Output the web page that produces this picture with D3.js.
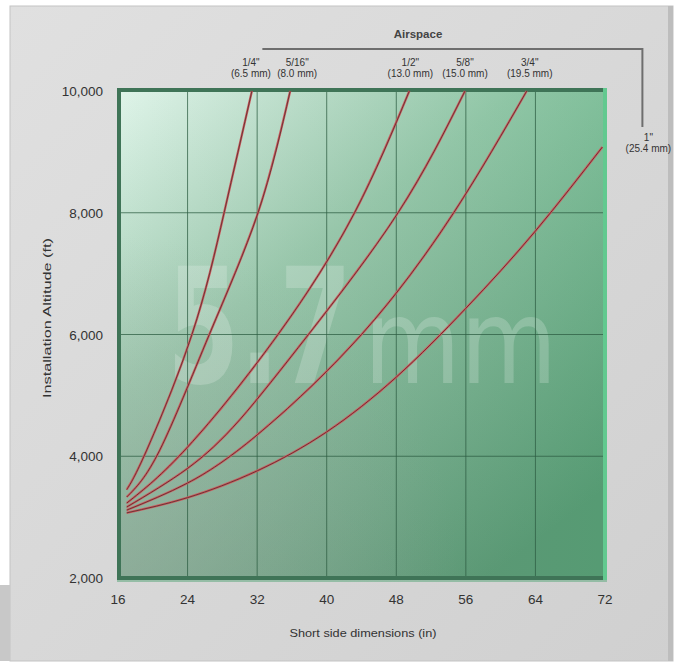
<!DOCTYPE html>
<html>
<head>
<meta charset="utf-8">
<script src="https://cdn.jsdelivr.net/npm/d3@7/dist/d3.min.js"></script>
<style>
  html, body { margin: 0; padding: 0; background: #ffffff; }
  svg { display: block; }
  text { font-family: "Liberation Sans", "Roboto", sans-serif; }
</style>
</head>
<body>
<script>
// ---------- data ----------
const xTicks = [16, 24, 32, 40, 48, 56, 64, 72];
const yTicks = [2000, 4000, 6000, 8000, 10000];
const seriesInch = ['1/4"', '5/16"', '1/2"', '5/8"', '3/4"', '1"'];
const seriesMM = ['(6.5 mm)', '(8.0 mm)', '(13.0 mm)', '(15.0 mm)', '(19.5 mm)', '(25.4 mm)'];
const s1 = [[17, 3450], [19.3, 4100], [24.5, 6000], [28.2, 8000], [31.4, 10000]];
const s2 = [[17, 3330], [20.8, 4100], [26.5, 6000], [32.1, 8000], [35.8, 10000]];
const s3 = [[17, 3230], [24, 4150], [34.4, 6000], [43.2, 8000], [49.5, 10000]];
const s4 = [[17, 3165], [24, 3800], [30, 4600], [37.9, 6000], [48.2, 8000], [55.9, 10000]];
const s5 = [[17, 3115], [24, 3560], [32, 4350], [44.0, 6000], [54.6, 8000], [63, 10000]];
const s6 = [[17, 3070], [24, 3320], [32, 3760], [40, 4400], [48, 5300], [56, 6430], [64, 7700], [71.7, 9080]];
const allSeries = [s1, s2, s3, s4, s5, s6];
const xTitle = "Short side dimensions (in)";
const yTitle = "Installation Altitude (ft)";
const bracketTitle = "Airspace";
const watermarkA = "5.7";
const watermarkB = "mm";

// ---------- drawing ----------
const W = 679, H = 666;
const svg = d3.select("body").append("svg").attr("width", W).attr("height", H);
const defs = svg.append("defs");

const pg = defs.append("linearGradient").attr("id", "panelG").attr("x1", 0).attr("y1", 0).attr("x2", 1).attr("y2", 1);
pg.append("stop").attr("offset", 0).attr("stop-color", "#e0e0e0");
pg.append("stop").attr("offset", 1).attr("stop-color", "#d0d0d0");

const gg = defs.append("linearGradient").attr("id", "plotG").attr("x1", 0).attr("y1", 0).attr("x2", 0.75).attr("y2", 1);
gg.append("stop").attr("offset", 0).attr("stop-color", "#e0f5ea");
gg.append("stop").attr("offset", 0.4).attr("stop-color", "#9cc9ae");
gg.append("stop").attr("offset", 1).attr("stop-color", "#5d9474");

const gg2 = defs.append("linearGradient").attr("id", "plotG2").attr("x1", 0).attr("y1", 0).attr("x2", 1).attr("y2", 0);
gg2.append("stop").attr("offset", 0).attr("stop-color", "#8a9a90").attr("stop-opacity", 0.0);
gg2.append("stop").attr("offset", 1).attr("stop-color", "#38b870").attr("stop-opacity", 0.2);

const rg = defs.append("radialGradient").attr("id", "plotG3").attr("cx", 0).attr("cy", 1).attr("r", 0.7);
rg.append("stop").attr("offset", 0).attr("stop-color", "#9aa39c").attr("stop-opacity", 0.45);
rg.append("stop").attr("offset", 1).attr("stop-color", "#9aa39c").attr("stop-opacity", 0);

// panel
svg.append("rect").attr("x", 10).attr("y", 6).attr("width", 663).attr("height", 655)
  .attr("fill", "url(#panelG)").attr("stroke", "#c4c4c4").attr("stroke-width", 1);
svg.append("rect").attr("x", 668).attr("y", 6).attr("width", 5).attr("height", 655).attr("fill", "#bdbdbd");
svg.append("rect").attr("x", 0).attr("y", 585).attr("width", 10).attr("height", 76).attr("fill", "#c8c8c8");

const x = d3.scaleLinear().domain([16, 72]).range([118, 605]);
const y = d3.scaleLinear().domain([2000, 10000]).range([578, 91]);

const bx0 = x(16) - 1, bx1 = x(72) + 2, by0 = y(10000) - 3, by1 = y(2000) + 2;

// plot background
["plotG", "plotG2", "plotG3"].forEach(id => {
  svg.append("rect").attr("x", bx0).attr("y", by0).attr("width", bx1 - bx0).attr("height", by1 - by0)
    .attr("fill", `url(#${id})`);
});

// watermark
svg.append("text").attr("x", 167).attr("y", 383).text(watermarkA)
  .attr("font-size", 160).attr("font-weight", "bold")
  .attr("textLength", 185).attr("lengthAdjust", "spacingAndGlyphs")
  .attr("fill", "#ffffff").attr("fill-opacity", 0.2)
  .style("font-family", "'DejaVu Sans', sans-serif");
svg.append("text").attr("x", 364).attr("y", 383).text(watermarkB)
  .attr("font-size", 118).attr("font-weight", "normal")
  .attr("textLength", 193).attr("lengthAdjust", "spacingAndGlyphs")
  .attr("fill", "#ffffff").attr("fill-opacity", 0.2)
  .style("font-family", "'DejaVu Sans', sans-serif");

// grid
const grid = svg.append("g");
grid.selectAll("line.v").data(xTicks.slice(1, -1)).join("line")
  .attr("x1", d => x(d)).attr("x2", d => x(d)).attr("y1", by0).attr("y2", by1)
  .attr("stroke", "#2e5e43").attr("stroke-opacity", 0.75).attr("stroke-width", 1);
grid.selectAll("line.h").data(yTicks.slice(1, -1)).join("line")
  .attr("x1", bx0).attr("x2", bx1).attr("y1", d => y(d)).attr("y2", d => y(d))
  .attr("stroke", "#2e5e43").attr("stroke-opacity", 0.75).attr("stroke-width", 1);

// border
svg.append("rect").attr("x", bx0 + 2).attr("y", by0 + 2).attr("width", bx1 - bx0 - 4).attr("height", by1 - by0 - 4)
  .attr("fill", "none").attr("stroke", "#3f7457").attr("stroke-width", 4);
svg.append("line").attr("x1", bx1 - 2).attr("x2", bx1 - 2).attr("y1", by0).attr("y2", by1)
  .attr("stroke", "#62c98f").attr("stroke-width", 4);
svg.append("line").attr("x1", bx0).attr("x2", bx1).attr("y1", by1 + 1).attr("y2", by1 + 1)
  .attr("stroke", "#7fb596").attr("stroke-width", 1.5);

// curves
const line = d3.line().x(d => x(d[0])).y(d => y(d[1])).curve(d3.curveNatural);
const cg = svg.append("g");
allSeries.forEach(s => {
  cg.append("path").attr("d", line(s)).attr("fill", "none").attr("stroke", "#cf5a5e").attr("stroke-width", 2.3);
  cg.append("path").attr("d", line(s)).attr("fill", "none").attr("stroke", "#5e3232").attr("stroke-width", 0.9);
});

// axes labels
const ax = svg.append("g").attr("fill", "#333").attr("font-size", 13.5);
ax.selectAll("text.y").data(yTicks).join("text")
  .attr("x", 103).attr("y", d => y(d) + 5).attr("text-anchor", "end").text(d => d3.format(",")(d));
ax.selectAll("text.x").data(xTicks).join("text")
  .attr("x", d => x(d)).attr("y", 604).attr("text-anchor", "middle").text(d => d);

svg.append("text").attr("x", 363).attr("y", 637).attr("text-anchor", "middle")
  .attr("font-size", 11.5).attr("fill", "#333").attr("textLength", 147).attr("lengthAdjust", "spacingAndGlyphs")
  .text(xTitle);
svg.append("text").attr("transform", "translate(51,318) rotate(-90)").attr("text-anchor", "middle")
  .attr("font-size", 11.5).attr("fill", "#333").attr("textLength", 160).attr("lengthAdjust", "spacingAndGlyphs")
  .text(yTitle);

// bracket
svg.append("text").attr("x", 418).attr("y", 38).attr("text-anchor", "middle")
  .attr("font-size", 11.5).attr("font-weight", "bold").attr("fill", "#444").text(bracketTitle);
svg.append("path").attr("d", `M${x(32.6)},49 H${x(76.3)} V127`)
  .attr("fill", "none").attr("stroke", "#6e6e6e").attr("stroke-width", 2);

// series labels
const offs = [-1, 7, 1, 0, 3, 0];
const lab = svg.append("g").attr("fill", "#333").attr("font-size", 10).attr("text-anchor", "middle");
allSeries.forEach((s, i) => {
  const last = s[s.length - 1];
  let lx, ly;
  if (i < 5) { lx = x(last[0]) + offs[i]; ly = 66; }
  else { lx = x(76.3) + 6; ly = 141; }
  lab.append("text").attr("x", lx).attr("y", ly).text(seriesInch[i]);
  lab.append("text").attr("x", lx).attr("y", ly + 11).text(seriesMM[i]);
});
</script>
</body>
</html>
